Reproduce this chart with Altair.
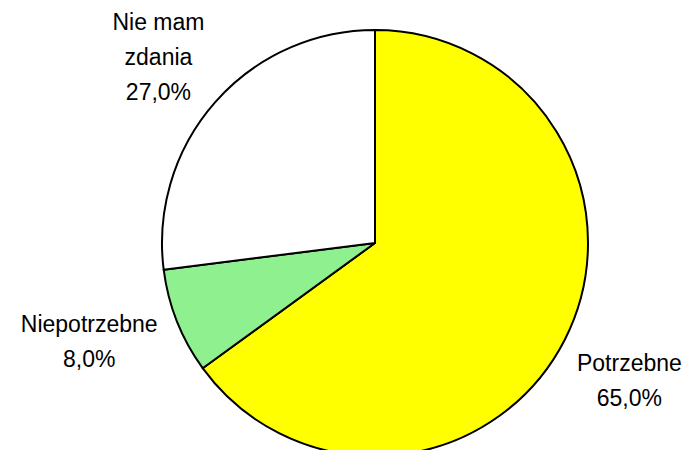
import altair as alt
import pandas as pd

categories = ["Potrzebne", "Niepotrzebne", "Nie mam zdania"]
display_names = ["Potrzebne", "Niepotrzebne", "Nie mam\nzdania"]
values = [65.0, 8.0, 27.0]
colors = ["#ffff00", "#8ef08e", "#ffffff"]

df = pd.DataFrame({
    "category": categories,
    "value": values,
    "order": list(range(len(categories))),
})
df["label"] = [
    f"{n}\n{v:.1f}%".replace(".", ",") for n, v in zip(display_names, values)
]

CX, CY, R = 367, 235, 213
label_radius = {"Potrzebne": 290, "Niepotrzebne": 302, "Nie mam zdania": 286}
label_shift = {"Potrzebne": (-4, -11), "Niepotrzebne": (-5, -29), "Nie mam zdania": (-2, -31)}

base = alt.Chart(df).encode(
    theta=alt.Theta("value:Q", stack=True, scale=alt.Scale(range=[0, 6.283185307179586])),
    order=alt.Order("order:Q"),
)

pie = base.mark_arc(stroke="black", strokeWidth=2, strokeJoin="round").encode(
    color=alt.Color(
        "category:N",
        scale=alt.Scale(domain=categories, range=colors),
        legend=None,
    ),
    x=alt.value(CX),
    y=alt.value(CY),
    radius=alt.value(R),
)

layers = [pie]
for cat in categories:
    sx, sy = label_shift[cat]
    t = base.mark_text(
        font="Liberation Sans",
        fontSize=23,
        lineBreak="\n",
        lineHeight=35,
        align="center",
        baseline="middle",
        color="black",
        dx=sx,
        dy=sy,
    ).encode(
        text="label:N",
        x=alt.value(CX),
        y=alt.value(CY),
        radius=alt.value(label_radius[cat]),
        opacity=alt.condition(f"datum.category == '{cat}'", alt.value(1), alt.value(0)),
    )
    layers.append(t)

chart = alt.layer(*layers).properties(
    width=679,
    height=442,
    padding=0,
    autosize=alt.AutoSizeParams(type="none"),
    background="white",
).configure_view(stroke=None)

chart.save("out.html", embed_options={"renderer": "svg", "actions": False})
